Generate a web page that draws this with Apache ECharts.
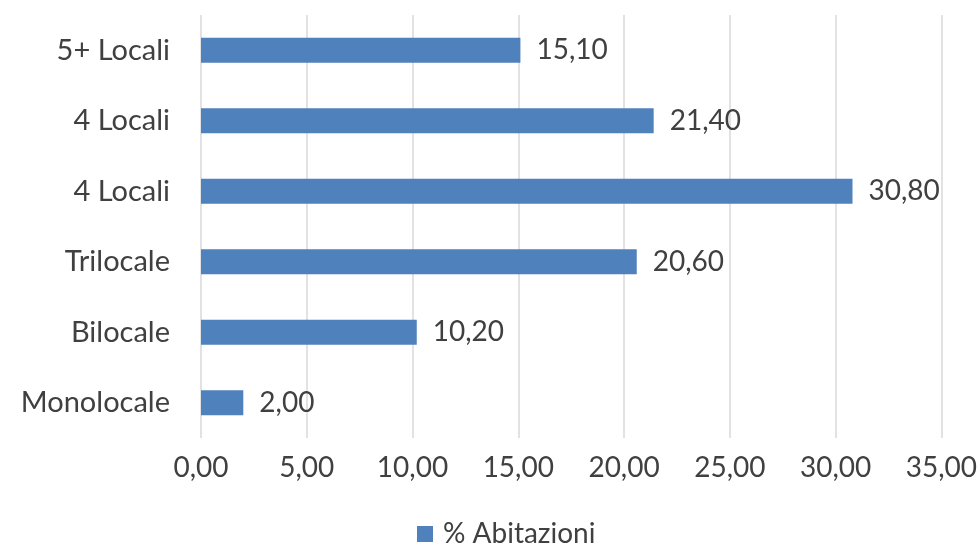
<!DOCTYPE html>
<html><head><meta charset="utf-8">
<script src="https://cdn.jsdelivr.net/npm/echarts@6/dist/echarts.min.js"></script>
<style>html,body{margin:0;padding:0;background:#fff;}#c{width:980px;height:553px;}</style>
</head><body><div id="c"></div>
<script>
const categories = ['Monolocale', 'Bilocale', 'Trilocale', '4 Locali', '4 Locali', '5+ Locali'];
const abitazioni = [2.00, 10.20, 20.60, 30.80, 21.40, 15.10];
const seriesName = '% Abitazioni';
const xMin = 0, xMax = 35, xStep = 5;

const fmt = v => Number(v).toFixed(2).replace('.', ',');
const FONT = 'Lato';
const FS = 28;
const chart = echarts.init(document.getElementById('c'));
chart.setOption({
  animation: false,
  backgroundColor: '#ffffff',
  grid: { left: 201, right: 38, top: 15, bottom: 115, containLabel: false },
  legend: {
    bottom: 0, left: 412, itemWidth: 16, itemHeight: 16, itemGap: 10,
    icon: 'rect',
    textStyle: { fontFamily: FONT, fontSize: FS, color: '#404040', padding: [0, 0, 0, 5] },
    data: [seriesName]
  },
  xAxis: {
    type: 'value', min: xMin, max: xMax, interval: xStep,
    axisLine: { show: false }, axisTick: { show: false },
    splitLine: { lineStyle: { color: '#d9d9d9', width: 1.5 } },
    axisLabel: { formatter: fmt, fontFamily: FONT, fontSize: FS, color: '#404040', margin: 16 }
  },
  yAxis: {
    type: 'category', data: categories,
    axisLine: { show: false }, axisTick: { show: false },
    axisLabel: { fontFamily: FONT, fontSize: 29, color: '#404040', margin: 31 }
  },
  series: [{
    name: seriesName, type: 'bar', data: abitazioni,
    barWidth: 25,
    itemStyle: { color: '#4F81BD' },
    label: { show: true, position: 'right', distance: 16, formatter: p => fmt(p.value),
      fontFamily: FONT, fontSize: FS, color: '#404040' }
  }]
});
</script></body></html>
